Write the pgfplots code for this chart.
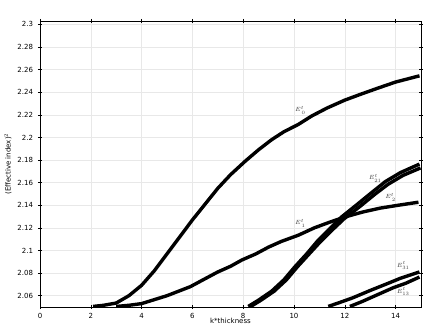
\documentclass[border=0pt]{standalone}
\usepackage{pgfplots}
\pgfplotsset{compat=1.18}
\usepackage{fontspec}
\setmainfont{DejaVu Sans}
\begin{document}
\begin{tikzpicture}
\begin{axis}[
  scale only axis, width=381pt, height=286pt,
  xmin=0, xmax=15, ymin=2.05, ymax=2.303,
  xtick={0,2,...,14},
  ytick={2.06,2.08,...,2.31},
  yticklabel style={/pgf/number format/fixed,/pgf/number format/precision=2, xshift=-1.5pt},
  xticklabel style={yshift=-0.5pt},
  /pgf/number format/assume math mode=true,
  tick label style={font=\fontsize{7}{8}\selectfont},
  label style={font=\fontsize{7}{8}\selectfont},
  xlabel={k*thickness}, ylabel={(Effective index)$^2$},
  xlabel style={at={(axis description cs:0.5,-0.05)}, anchor=center},
  ylabel style={at={(axis description cs:-0.084,0.5)}, anchor=center},
  grid=major, grid style={gray!18, line width=0.5pt},
  axis line style={black, line width=0.7pt},
  tick style={black, line width=0.5pt}, major tick length=4pt,
  tick align=center,
]
\addplot[black, line width=3.4pt] coordinates {
(2.09,2.0505)(2.5,2.0515)(3.0,2.0535)(3.5,2.060)(4.0,2.0692)(4.5,2.082)(5.0,2.097)(5.5,2.112)(6.0,2.127)(6.5,2.141)(7.0,2.155)(7.5,2.167)(8.08,2.179)(8.6,2.189)(9.12,2.198)(9.6,2.205)(10.17,2.2115)(10.7,2.219)(11.3,2.226)(12.0,2.233)(12.6,2.238)(13.3,2.2436)(14.0,2.249)(14.94,2.2545)
};
\addplot[black, line width=3.4pt] coordinates {
(3.0,2.0505)(3.5,2.0515)(4.0,2.053)(4.5,2.0565)(5.0,2.060)(5.46,2.064)(5.92,2.068)(6.5,2.075)(7.0,2.081)(7.5,2.086)(7.95,2.0916)(8.5,2.097)(9.0,2.103)(9.5,2.108)(10.17,2.1135)(10.8,2.120)(11.4,2.125)(12.0,2.1296)(12.7,2.134)(13.4,2.1375)(14.1,2.140)(14.9,2.1427)
};
\addplot[black, line width=3.4pt] coordinates {
(8.2,2.0505)(8.6,2.056)(9.12,2.064)(9.6,2.074)(10.04,2.0857)(10.5,2.097)(10.95,2.109)(11.4,2.119)(11.87,2.1296)(12.5,2.141)(13.1,2.152)(13.6,2.161)(14.2,2.169)(14.94,2.1764)
};
\addplot[black, line width=3.4pt] coordinates {
(8.3,2.0505)(8.7,2.056)(9.22,2.064)(9.7,2.074)(10.14,2.0857)(10.6,2.097)(11.05,2.108)(11.5,2.118)(11.97,2.128)(12.6,2.139)(13.2,2.150)(13.7,2.1585)(14.3,2.1665)(14.98,2.173)
};
\addplot[black, line width=3.4pt] coordinates {
(11.35,2.0505)(11.8,2.054)(12.3,2.058)(13.04,2.065)(13.6,2.070)(14.2,2.0755)(14.94,2.081)
};
\addplot[black, line width=3.4pt] coordinates {
(12.2,2.0505)(12.7,2.055)(13.3,2.061)(13.9,2.067)(14.4,2.071)(14.94,2.0765)
};
\node[font=\fontsize{6}{6}\selectfont\itshape, text=black!75] at (axis cs:10.25,2.224) {$E^{t}_{\,0}$};
\node[font=\fontsize{6}{6}\selectfont\itshape, text=black!75] at (axis cs:13.2,2.164) {$E^{t}_{21}$};
\node[font=\fontsize{6}{6}\selectfont\itshape, text=black!75] at (axis cs:13.8,2.147) {$E^{t}_{\,2}$};
\node[font=\fontsize{6}{6}\selectfont\itshape, text=black!75] at (axis cs:10.25,2.124) {$E^{t}_{\,1}$};
\node[font=\fontsize{6}{6}\selectfont\itshape, text=black!75] at (axis cs:14.3,2.0865) {$E^{t}_{31}$};
\node[font=\fontsize{6}{6}\selectfont\itshape, text=black!75] at (axis cs:14.3,2.0635) {$E^{t}_{13}$};
\end{axis}
\pgfresetboundingbox
\path ([shift={(-40pt,-20pt)}]current axis.south west) rectangle ([shift={(5pt,21pt)}]current axis.north east);
\end{tikzpicture}
\end{document}
